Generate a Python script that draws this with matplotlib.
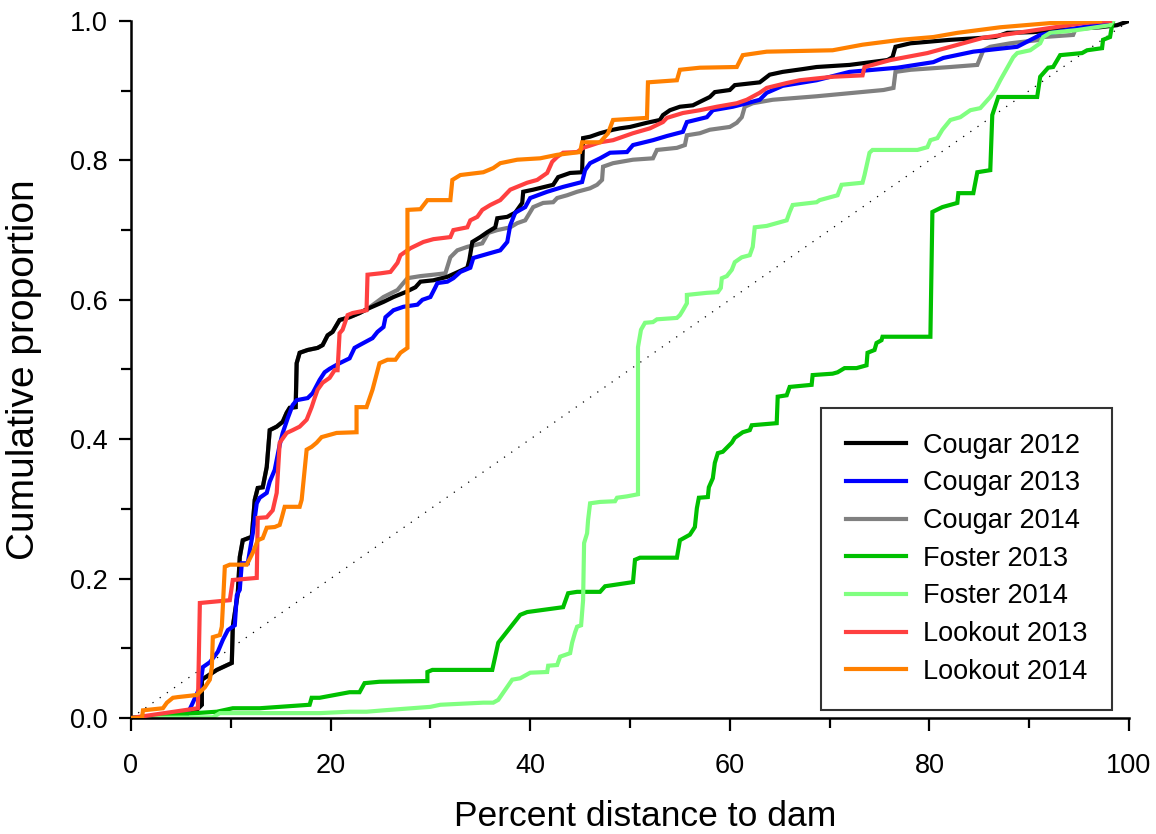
import matplotlib
matplotlib.use("Agg")
import matplotlib.pyplot as plt
from matplotlib.ticker import MultipleLocator

plt.rcParams['font.family'] = ['Liberation Sans', 'DejaVu Sans']

# Cougar 2012
c12_x = [0, 3.9, 6.4, 7.1, 7.1, 8.6, 10.1, 10.2, 10.7, 10.9, 11.2, 12.1, 12.4, 12.7, 13.2, 13.6, 13.9,
         14.6, 15.2, 15.6, 15.9, 16.5, 16.6, 16.9, 17.7, 18.7, 19.2, 19.7, 20.2, 20.9, 21.9, 22.9, 23.7,
         25.3, 26.3, 27.5, 28.5, 29.0, 30.3, 31.7, 33.7, 33.9, 34.2, 35.0, 35.7, 36.5, 36.7, 37.7, 38.5,
         39.2, 39.3, 40.3, 42.3, 42.8, 44.0, 45.2, 45.3, 46.0, 47.0, 48.3, 49.0, 50.0, 51.7, 53.0, 53.3,
         54.0, 55.0, 56.3, 57.0, 58.0, 58.5, 60.0, 60.5, 63.0, 64.0, 65.3, 67.3, 68.7, 72.0, 75.8, 76.3,
         76.6, 78.1, 82.1, 86.6, 87.8, 90.4, 92.8, 97.1, 98.8, 100]
c12_y = [0, 0.003, 0.009, 0.019, 0.055, 0.069, 0.079, 0.131, 0.179, 0.231, 0.255, 0.26, 0.313, 0.33,
         0.331, 0.36, 0.413, 0.418, 0.425, 0.438, 0.445, 0.446, 0.509, 0.524, 0.528, 0.531, 0.535, 0.549,
         0.554, 0.571, 0.575, 0.581, 0.587, 0.597, 0.604, 0.611, 0.618, 0.626, 0.628, 0.633, 0.646, 0.657,
         0.683, 0.69, 0.697, 0.704, 0.717, 0.719, 0.725, 0.739, 0.755, 0.758, 0.765, 0.776, 0.782, 0.783,
         0.832, 0.834, 0.839, 0.844, 0.846, 0.848, 0.854, 0.858, 0.865, 0.872, 0.877, 0.879, 0.884, 0.891,
         0.898, 0.901, 0.908, 0.912, 0.923, 0.927, 0.931, 0.934, 0.937, 0.944, 0.948, 0.963, 0.968, 0.973,
         0.977, 0.983, 0.984, 0.987, 0.991, 0.994, 1.0]

# Cougar 2013
c13_x = [0, 5.6, 6.1, 6.9, 7.2, 7.9, 8.7, 9.2, 9.7, 10.4, 10.6, 10.9, 11.1, 11.7, 12.2, 12.6, 12.9,
         13.6, 13.9, 14.4, 14.9, 15.2, 15.7, 16.2, 16.6, 17.7, 18.2, 18.9, 19.4, 19.9, 20.9, 21.9, 22.4,
         22.9, 24.2, 24.7, 25.3, 25.5, 26.3, 27.3, 28.7, 29.2, 30.0, 30.5, 30.7, 31.7, 32.3, 33.0, 34.0,
         34.3, 36.0, 37.0, 37.7, 38.0, 38.5, 39.5, 40.0, 41.7, 43.3, 45.2, 45.5, 46.0, 47.0, 48.0, 49.7,
         50.3, 52.3, 53.7, 55.3, 55.7, 57.7, 58.3, 60.3, 61.7, 63.0, 63.7, 65.3, 67.0, 68.7, 72.0, 76.8,
         80.4, 81.4, 84.4, 88.8, 91.1, 94.8, 98.1]
c13_y = [0, 0.004, 0.019, 0.044, 0.073, 0.08, 0.095, 0.112, 0.126, 0.133, 0.176, 0.184, 0.222, 0.222,
         0.265, 0.308, 0.316, 0.323, 0.339, 0.356, 0.392, 0.409, 0.43, 0.449, 0.456, 0.459, 0.466, 0.485,
         0.496, 0.501, 0.509, 0.516, 0.531, 0.535, 0.545, 0.554, 0.561, 0.575, 0.585, 0.59, 0.593, 0.6,
         0.604, 0.618, 0.624, 0.626, 0.631, 0.64, 0.646, 0.66, 0.667, 0.671, 0.683, 0.707, 0.725, 0.733,
         0.746, 0.755, 0.762, 0.769, 0.786, 0.796, 0.803, 0.811, 0.812, 0.822, 0.829, 0.835, 0.841, 0.855,
         0.862, 0.872, 0.877, 0.882, 0.887, 0.897, 0.907, 0.911, 0.915, 0.927, 0.933, 0.941, 0.947, 0.956,
         0.963, 0.98, 0.99, 0.997]

# Cougar 2014 (lower part runs under Cougar 2012)
c14_x = c12_x[:33] + [25.3, 26.7, 27.7, 29.0, 30.3, 31.5, 32.0, 32.7, 33.7, 35.2, 35.8, 36.7, 38.0,
         38.7, 39.5, 40.3, 41.3, 42.3, 42.7, 43.7, 44.7, 46.0, 46.7, 47.2, 47.3, 48.3, 50.3, 52.3, 52.7,
         54.7, 55.5, 55.7, 57.0, 58.0, 60.0, 60.7, 61.2, 61.5, 62.3, 64.3, 68.7, 75.4, 76.4, 76.6, 78.1,
         82.1, 84.8, 85.4, 86.1, 88.1, 91.1, 91.4, 94.4, 94.6]
c14_y = c12_y[:33] + [0.604, 0.614, 0.631, 0.634, 0.636, 0.638, 0.661, 0.671, 0.676, 0.681, 0.696, 0.7,
         0.704, 0.71, 0.714, 0.733, 0.739, 0.74, 0.746, 0.75, 0.755, 0.76, 0.765, 0.772, 0.791, 0.796, 0.801,
         0.803, 0.815, 0.818, 0.822, 0.836, 0.839, 0.844, 0.848, 0.854, 0.862, 0.877, 0.882, 0.887, 0.892,
         0.901, 0.904, 0.927, 0.93, 0.934, 0.937, 0.958, 0.963, 0.968, 0.973, 0.977, 0.98, 0.987]

# Foster 2013
f13_x = [0, 3.2, 8.6, 10.2, 12.9, 17.9, 18.1, 18.9, 21.9, 22.9, 23.4, 24.9, 29.7, 29.7, 30.2, 36.2,
         36.8, 39.0, 39.7, 43.3, 43.8, 44.7, 47.0, 47.5, 50.3, 50.5, 51.0, 54.7, 55.0, 56.0, 56.5, 56.7,
         56.9, 57.8, 57.9, 58.3, 58.5, 58.8, 59.3, 60.2, 60.5, 61.3, 62.0, 62.2, 64.7, 64.8, 65.7, 66.0,
         68.2, 68.3, 70.3, 70.8, 71.5, 72.7, 73.7, 73.8, 74.5, 74.7, 75.2, 75.3, 80.1, 80.3, 81.3, 82.8,
         82.9, 84.4, 84.8, 86.1, 86.3, 86.9, 90.8, 91.1, 91.9, 92.4, 93.1, 95.3, 95.8, 97.3, 97.4, 98.1,
         98.3, 98.4]
f13_y = [0, 0.004, 0.009, 0.014, 0.014, 0.019, 0.029, 0.029, 0.037, 0.037, 0.05, 0.052, 0.053, 0.066,
         0.069, 0.069, 0.108, 0.148, 0.152, 0.159, 0.179, 0.181, 0.181, 0.189, 0.195, 0.227, 0.23, 0.23,
         0.255, 0.263, 0.274, 0.301, 0.316, 0.317, 0.331, 0.344, 0.366, 0.38, 0.382, 0.395, 0.402, 0.41,
         0.413, 0.42, 0.423, 0.461, 0.463, 0.475, 0.478, 0.492, 0.494, 0.496, 0.502, 0.502, 0.506, 0.524,
         0.528, 0.538, 0.542, 0.547, 0.547, 0.726, 0.733, 0.739, 0.753, 0.753, 0.783, 0.786, 0.865, 0.891,
         0.891, 0.92, 0.933, 0.934, 0.951, 0.954, 0.958, 0.961, 0.973, 0.977, 0.994, 1.0]

# Foster 2014
f14_x = [0, 8.2, 8.9, 18.9, 21.9, 23.6, 25.3, 30.0, 31.0, 35.3, 36.3, 36.8, 38.2, 39.0, 40.0, 41.7,
         41.8, 42.7, 43.0, 44.0, 44.2, 44.5, 44.7, 45.1, 45.3, 45.4, 45.7, 45.8, 46.0, 47.0, 48.5, 48.7,
         49.7, 50.8, 50.8, 51.1, 51.5, 52.3, 52.7, 54.7, 55.0, 55.3, 55.7, 55.7, 57.7, 58.8, 59.1, 59.2,
         59.7, 60.2, 60.5, 61.2, 62.0, 62.3, 62.5, 63.7, 64.7, 65.7, 66.0, 66.3, 68.7, 69.0, 70.8, 71.2,
         73.3, 73.5, 74.0, 74.3, 78.8, 79.8, 80.1, 80.8, 81.3, 82.1, 83.1, 84.1, 85.1, 86.1, 86.6, 87.1,
         88.4, 88.8, 90.1, 91.1, 91.4, 92.1, 94.8, 98.1, 98.4]
f14_y = [0, 0.001, 0.007, 0.007, 0.009, 0.009, 0.011, 0.016, 0.019, 0.022, 0.022, 0.026, 0.055, 0.057,
         0.065, 0.066, 0.075, 0.076, 0.088, 0.093, 0.108, 0.123, 0.131, 0.133, 0.169, 0.251, 0.265, 0.284,
         0.308, 0.31, 0.311, 0.316, 0.318, 0.321, 0.532, 0.557, 0.567, 0.568, 0.572, 0.574, 0.578, 0.585,
         0.595, 0.607, 0.61, 0.611, 0.617, 0.631, 0.634, 0.643, 0.654, 0.661, 0.664, 0.676, 0.704, 0.706,
         0.71, 0.714, 0.726, 0.736, 0.74, 0.743, 0.75, 0.765, 0.768, 0.779, 0.811, 0.815, 0.815, 0.819,
         0.829, 0.832, 0.844, 0.858, 0.862, 0.872, 0.875, 0.891, 0.901, 0.915, 0.948, 0.954, 0.958, 0.968,
         0.977, 0.983, 0.987, 0.994, 1.0]

# Lookout 2013
l13_x = [0, 6.7, 6.9, 9.9, 10.2, 12.6, 12.7, 13.6, 14.2, 14.6, 14.9, 15.6, 16.2, 16.9, 17.6, 18.1,
         18.4, 18.7, 19.2, 19.9, 20.4, 20.7, 20.9, 21.2, 21.7, 22.2, 23.6, 23.7, 25.0, 26.0, 26.7, 27.0,
         28.0, 29.3, 30.3, 32.0, 32.3, 33.7, 34.0, 34.7, 35.2, 36.0, 37.0, 38.0, 39.7, 40.7, 41.7, 42.2,
         42.7, 43.3, 44.7, 45.3, 47.0, 48.3, 50.3, 52.0, 53.3, 53.7, 55.3, 57.0, 58.7, 60.7, 61.7, 63.0,
         63.7, 65.7, 67.0, 70.3, 73.3, 73.5, 76.1, 79.8, 82.1, 85.4, 88.8, 92.1, 95.4, 98.1]
l13_y = [0, 0.014, 0.165, 0.169, 0.198, 0.201, 0.287, 0.288, 0.298, 0.323, 0.395, 0.409, 0.413, 0.418,
         0.428, 0.446, 0.459, 0.471, 0.481, 0.488, 0.499, 0.499, 0.552, 0.557, 0.578, 0.581, 0.585, 0.636,
         0.638, 0.64, 0.653, 0.664, 0.674, 0.683, 0.687, 0.69, 0.7, 0.704, 0.714, 0.719, 0.729, 0.736,
         0.743, 0.758, 0.768, 0.772, 0.782, 0.798, 0.805, 0.811, 0.812, 0.818, 0.826, 0.829, 0.839, 0.846,
         0.855, 0.861, 0.868, 0.872, 0.877, 0.882, 0.887, 0.897, 0.904, 0.911, 0.915, 0.92, 0.922, 0.934,
         0.944, 0.954, 0.963, 0.976, 0.983, 0.99, 0.997, 1.0]

# Lookout 2014
l14_x = [0, 1.1, 1.2, 3.2, 3.6, 4.2, 4.7, 6.6, 7.4, 7.9, 8.1, 8.2, 8.9, 9.1, 9.2, 9.4, 9.9, 11.6,
         12.2, 12.7, 13.2, 13.6, 14.4, 14.9, 15.1, 15.4, 16.9, 17.1, 17.6, 18.1, 18.6, 19.1, 20.6, 22.6,
         22.6, 23.6, 24.2, 24.9, 25.7, 26.5, 27.0, 27.7, 27.7, 29.0, 29.7, 32.0, 32.2, 33.0, 35.3, 36.3,
         37.0, 38.7, 41.0, 42.7, 45.0, 45.2, 47.0, 47.8, 48.3, 51.7, 51.8, 54.7, 55.0, 57.0, 60.7, 61.3,
         63.7, 70.3, 73.3, 77.1, 80.4, 82.8, 87.1, 92.1, 97.1]
l14_y = [0, 0, 0.011, 0.014, 0.022, 0.029, 0.03, 0.033, 0.044, 0.055, 0.073, 0.116, 0.119, 0.131, 0.159,
         0.217, 0.22, 0.22, 0.237, 0.255, 0.258, 0.273, 0.274, 0.277, 0.287, 0.303, 0.303, 0.313, 0.385,
         0.389, 0.395, 0.403, 0.409, 0.41, 0.446, 0.446, 0.471, 0.509, 0.514, 0.514, 0.524, 0.531, 0.729,
         0.73, 0.743, 0.743, 0.772, 0.779, 0.783, 0.789, 0.796, 0.801, 0.803, 0.808, 0.812, 0.826, 0.826,
         0.839, 0.858, 0.861, 0.912, 0.915, 0.93, 0.933, 0.934, 0.951, 0.956, 0.958, 0.966, 0.973, 0.977,
         0.983, 0.991, 0.997, 1.0]

labels = ['Cougar 2012', 'Cougar 2013', 'Cougar 2014', 'Foster 2013', 'Foster 2014',
          'Lookout 2013', 'Lookout 2014']
colors = ['#000000', '#0000ff', '#808080', '#00c000', '#80ff80', '#ff4040', '#ff8000']
xs = [c12_x, c13_x, c14_x, f13_x, f14_x, l13_x, l14_x]
ys = [c12_y, c13_y, c14_y, f13_y, f14_y, l13_y, l14_y]
zs = [2.2, 2.3, 2.1, 2.4, 2.5, 2.6, 2.7]

fig = plt.figure(figsize=(11.56, 8.34), dpi=100)
ax = fig.add_axes([131/1156, 1 - 718/834, 998/1156, 697/834])

# 1:1 reference line
ax.plot([0, 100], [0, 1], color='black', lw=0.9, linestyle=(0, (1, 6)), zorder=1.5)

handles = []
for x, y, c, lab, z in zip(xs, ys, colors, labels, zs):
    h, = ax.plot(x, y, color=c, lw=3.0, label=lab, zorder=z, solid_joinstyle='miter')
    handles.append(h)

ax.set_xlim(0, 100)
ax.set_ylim(0, 1.0)
ax.xaxis.set_major_locator(MultipleLocator(20))
ax.xaxis.set_minor_locator(MultipleLocator(10))
ax.yaxis.set_major_locator(MultipleLocator(0.2))
ax.yaxis.set_minor_locator(MultipleLocator(0.1))
ax.yaxis.set_major_formatter(plt.FormatStrFormatter('%.1f'))

for s in ['top', 'right']:
    ax.spines[s].set_visible(False)
for s in ['left', 'bottom']:
    ax.spines[s].set_linewidth(1.8)
ax.tick_params(which='major', direction='out', length=9, width=1.6, labelsize=19.5)
ax.tick_params(which='minor', direction='out', length=7, width=1.6)
ax.tick_params(axis='y', which='major', pad=8)
ax.tick_params(axis='x', which='major', pad=16)

ax.set_xlabel('Percent distance to dam', fontsize=25.5)
ax.set_ylabel('Cumulative proportion', fontsize=28)
ax.xaxis.set_label_coords(0.515, -0.118)
ax.yaxis.set_label_coords(-0.089, 0.5)

leg = ax.legend(handles=handles, loc='upper left', bbox_to_anchor=(0.691, 0.445),
                borderaxespad=0, fontsize=19.5, frameon=True, fancybox=False,
                handlelength=2.25, handletextpad=0.6, labelspacing=0.43,
                borderpad=0.92)
leg.get_frame().set_edgecolor('black')
leg.get_frame().set_linewidth(1.5)

fig.savefig('out.png', dpi=100)
